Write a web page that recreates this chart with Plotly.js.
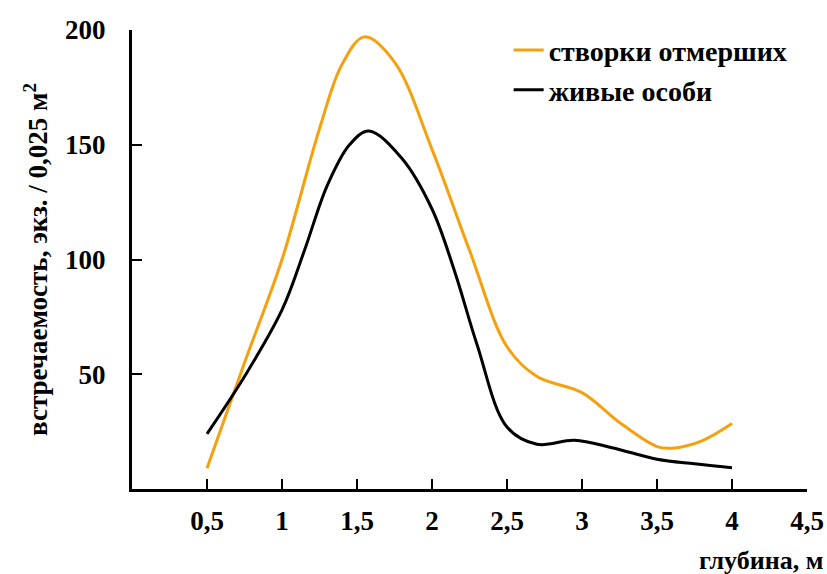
<!DOCTYPE html>
<html>
<head>
<meta charset="utf-8">
<script src="https://cdn.plot.ly/plotly-3.0.1.min.js"></script>
<style>
  html, body { margin: 0; padding: 0; background: #fff; }
  #chart { width: 827px; height: 574px; }
</style>
</head>
<body>
<div id="chart"></div>
<script>
// Depth (m) and occurrence per 0.025 m² for dead valves and live individuals
const depthShells = [0.5, 0.75, 1.0, 1.25, 1.4, 1.55, 1.75, 2.0, 2.25, 2.5, 2.7, 3.0, 3.25, 3.5, 3.6, 3.8, 4.0];
const deadShells  = [9, 55, 100, 157, 185, 197, 186, 148, 104, 62, 49, 42, 29, 18.5, 17.8, 21, 28.5];

const depthLive = [0.5, 0.75, 1.0, 1.15, 1.3, 1.45, 1.58, 1.8, 2.0, 2.15, 2.3, 2.5, 2.7, 2.95, 3.2, 3.5, 3.75, 4.0];
const liveInd   = [24, 49, 78, 104, 132, 150, 156, 144, 122, 95, 63, 27, 19.5, 21.2, 18, 13, 11, 9.3];

const seriesNames = ["створки отмерших", "живые особи"];
const xTickVals = [0.5, 1, 1.5, 2, 2.5, 3, 3.5, 4, 4.5];
const xTickText = ["0,5", "1", "1,5", "2", "2,5", "3", "3,5", "4", "4,5"];
const yTickVals = [50, 100, 150, 200];
const yTickText = ["50", "100", "150", "200"];

const FONT = "Liberation Serif, Times New Roman, serif";
const ORANGE = "#F5A00F";
const SIZE = 27;
const boldFont = (size) => ({ family: FONT, size: size, color: "#000", weight: "bold" });

const traces = [
  {
    x: depthShells, y: deadShells, name: seriesNames[0], mode: "lines",
    line: { color: ORANGE, width: 3, shape: "spline", smoothing: 1 },
    legend: "legend"
  },
  {
    x: depthLive, y: liveInd, name: seriesNames[1], mode: "lines",
    line: { color: "#000000", width: 3, shape: "spline", smoothing: 1 },
    legend: "legend2"
  }
];

const legendStyle = {
  font: boldFont(28),
  bgcolor: "rgba(0,0,0,0)",
  xanchor: "left", yanchor: "middle",
  itemwidth: 30
};

const layout = {
  width: 827, height: 574,
  margin: { l: 132, r: 20, t: 30, b: 85 },
  paper_bgcolor: "#fff", plot_bgcolor: "#fff",
  font: boldFont(SIZE),
  xaxis: {
    range: [0, 4.5], tickvals: xTickVals, ticktext: xTickText,
    ticks: "inside", ticklen: 10, tickwidth: 2, tickcolor: "#000",
    showline: true, linewidth: 3, linecolor: "#000",
    showgrid: false, zeroline: false,
    ticklabelstandoff: 6,
    tickfont: boldFont(SIZE)
  },
  yaxis: {
    range: [0, 200], tickvals: yTickVals, ticktext: yTickText,
    ticks: "inside", ticklen: 10, tickwidth: 2, tickcolor: "#000",
    showline: true, linewidth: 3, linecolor: "#000",
    showgrid: false, zeroline: false,
    ticklabelstandoff: 18,
    tickfont: boldFont(SIZE),
    title: {
      text: "встречаемость, экз. / 0,025 м<sup>2</sup>",
      font: boldFont(SIZE),
      standoff: 10
    }
  },
  annotations: [
    {
      text: "глубина, м", xref: "paper", yref: "paper",
      x: 1.027, y: -0.155, xanchor: "right", yanchor: "middle", showarrow: false,
      font: boldFont(26)
    }
  ],
  legend: Object.assign({ x: 0.558, y: 0.956 }, legendStyle),
  legend2: Object.assign({ x: 0.558, y: 0.869 }, legendStyle),
  showlegend: true
};

Plotly.newPlot("chart", traces, layout, { displayModeBar: false, staticPlot: true });
</script>
</body>
</html>
